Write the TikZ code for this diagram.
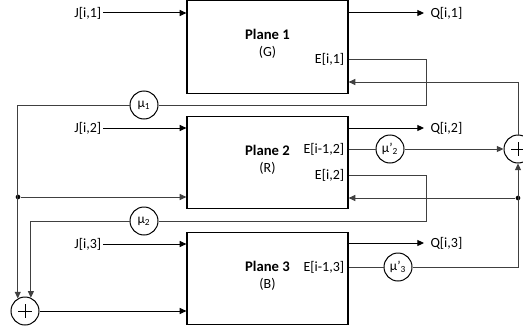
\documentclass[tikz,border=0pt]{standalone}
\usepackage{fontspec}
\setmainfont{Carlito}
\usetikzlibrary{arrows.meta,calc}
\begin{document}
\begin{tikzpicture}[x=0.75pt,y=-0.75pt,
 line width=0.75pt,
 plane/.style={draw, minimum width=120.75pt, minimum height=69.5pt, inner sep=0pt, line width=0.9pt},
 lbl/.style={font=\fontsize{10.5}{12}\selectfont, inner sep=1pt},
 qlbl/.style={font=\fontsize{10.5}{12}\selectfont, inner ysep=1pt, inner xsep=4.5pt, anchor=west},
 ttl/.style={font=\fontsize{11}{13}\selectfont\bfseries, inner sep=0pt},
 gain/.style={draw, circle, minimum size=21pt, inner sep=0pt, font=\fontsize{10}{12}\selectfont},
 sumc/.style={draw, circle, minimum size=21pt, inner sep=0pt},
 arr/.style={-{Triangle[length=5pt,width=4.5pt]}},
 dotc/.style={circle, fill, inner sep=0pt, minimum size=3.5pt},
 fbl/.style={draw=black!75},
]
\fill[white] (0,0) rectangle (523,328);
\useasboundingbox (0,0) rectangle (523,328);

% planes
\node[plane] (P1) at (267.5,47) {};
\node[plane] (P2) at (267.5,162.5) {};
\node[plane] (P3) at (267.5,278.5) {};
\node[ttl] (t1) at (267.5,34) {Plane 1};
\node[lbl] (g1) at (267.5,52) {(G)};
\node[ttl] (t2) at (267.5,150) {Plane 2};
\node[lbl] (g2) at (267.5,168) {(R)};
\node[ttl] (t3) at (267.5,266) {Plane 3};
\node[lbl] (g3) at (267.5,284) {(B)};

% inputs
\node[lbl, anchor=east] (j1) at (103,13) {J[i,1]};
\node[lbl, anchor=east] (j2) at (103,128) {J[i,2]};
\node[lbl, anchor=east] (j3) at (103,244) {J[i,3]};
\draw[arr] (j1) -- (j1 -| P1.west);
\draw[arr] (j2) -- (j2 -| P2.west);
\draw[arr] (j3) -- (j3 -| P3.west);

% outputs
\node[qlbl] (q1) at (424,13) {Q[i,1]};
\node[qlbl] (q2) at (424,128) {Q[i,2]};
\node[qlbl] (q3) at (424,243) {Q[i,3]};
\draw[arr] (q1 -| P1.east) -- (q1);
\draw[arr] (q2 -| P2.east) -- (q2);
\draw[arr] (q3 -| P3.east) -- (q3);

% error labels
\node[lbl, anchor=east] (e1) at (346,59) {E[i,1]};
\node[lbl, anchor=east] (em2) at (346,149) {E[i-1,2]};
\node[lbl, anchor=east] (e2) at (346,175) {E[i,2]};
\node[lbl, anchor=east] (em3) at (346,267) {E[i-1,3]};

% gains
\node[gain] (m1) at (144,105) {μ\textsubscript{1}};
\node[gain] (m2) at (144,221) {μ\textsubscript{2}};
\node[gain] (mp2) at (390,149) {μ’\textsubscript{2}};
\node[gain] (mp3) at (398,267) {μ’\textsubscript{3}};

% sums
\node[sumc] (sL) at (25,311) {};
\node[sumc] (sR) at (518,149) {};
\draw[line width=0.6pt] ($(sL)+(-7,0)$) -- ($(sL)+(7,0)$) ($(sL)+(0,-7)$) -- ($(sL)+(0,7)$);
\draw[line width=0.6pt] ($(sR)+(-7,0)$) -- ($(sR)+(7,0)$) ($(sR)+(0,-7)$) -- ($(sR)+(0,7)$);

% dots
\node[dotc] (dL) at (18,197) {};
\node[dotc] (dR) at (518,198) {};

% feedback paths
\coordinate (c1) at (426,105);
\coordinate (c2) at (426,221);
\coordinate (c3) at (518,82);
\draw[fbl] (e1.east -| P1.east) -| (c1) -- (m1);
\draw[fbl,arr] (m1) -| (sL.120);
\draw[fbl,arr] (dL) -- (dL -| P2.west);
\draw[fbl] (e2.east -| P2.east) -| (c2) -- (m2);
\draw[fbl,arr] (m2) -| (sL.66);
\draw[fbl] (em2.east -| P2.east) -- (mp2);
\draw[fbl,arr] (mp2) -- (sR);
\draw[fbl] (em3.east -| P3.east) -- (mp3);
\draw[fbl,arr] (mp3) -| (sR.south);
\draw[fbl,arr] (dR) -- (dR -| P2.east);
\draw[fbl,arr] (sR.north) -- (c3) -- (c3 -| P1.east);
\draw[arr] (sL) -- (sL -| P3.west);
\end{tikzpicture}
\end{document}
